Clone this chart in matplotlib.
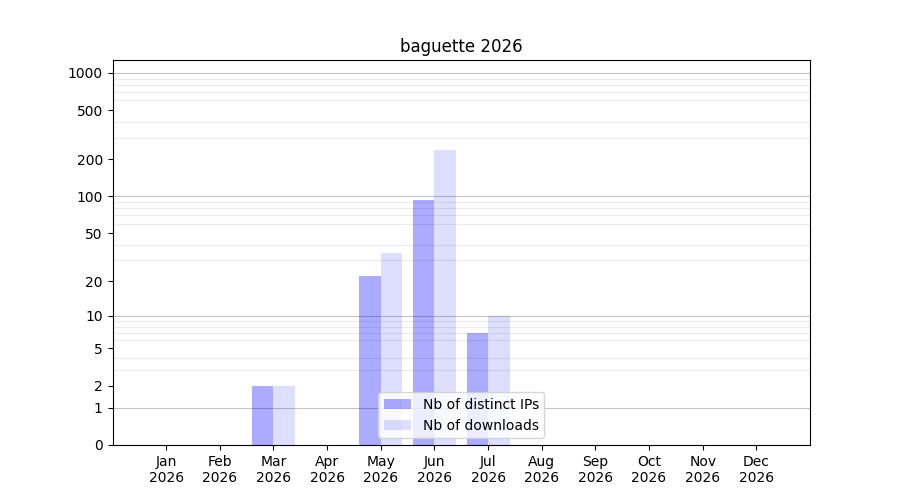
import numpy as np
import matplotlib.pyplot as plt

# données mensuelles
months = ['Jan', 'Feb', 'Mar', 'Apr', 'May', 'Jun', 'Jul', 'Aug', 'Sep', 'Oct', 'Nov', 'Dec']
year = '2026'
ips = [0, 0, 2, 0, 22, 93, 7, 0, 0, 0, 0, 0]
downloads = [0, 0, 2, 0, 34, 238, 10, 0, 0, 0, 0, 0]
yticks = [0, 1, 2, 5, 10, 20, 50, 100, 200, 500, 1000]


def fwd(y):
    return np.log10(np.maximum(y, 0) + 1)


def inv(y):
    return 10 ** y - 1


fig, ax = plt.subplots(figsize=(9, 5), dpi=100)
x = np.arange(1, len(months) + 1)
w = 0.4

ax.bar(x - w / 2, ips, w, color='blue', alpha=0.33, label='Nb of distinct IPs', zorder=2)
ax.bar(x + w / 2, downloads, w, color='blue', alpha=0.13, label='Nb of downloads', zorder=2)

ax.set_yscale('function', functions=(fwd, inv))
ax.set_ylim(0, 1270)
ax.set_xlim(0, 13)

ax.set_yticks(yticks)
ax.set_yticklabels([str(v) for v in yticks])
minor = [m * 10 ** k for k in range(3) for m in range(2, 10)]
ax.set_yticks(minor, minor=True)
ax.tick_params(axis='y', which='minor', length=0)
ax.yaxis.grid(True, which='minor', color='#ebebeb', lw=0.8, zorder=0)
for k in range(4):
    ax.axhline(10 ** k, color='#c4c4c4', lw=0.8, zorder=1)

ax.set_xticks(x)
ax.set_xticklabels([m + '\n' + year for m in months])

ax.set_title('baguette 2026')
ax.legend(loc='lower center')

plt.savefig('out.png')
